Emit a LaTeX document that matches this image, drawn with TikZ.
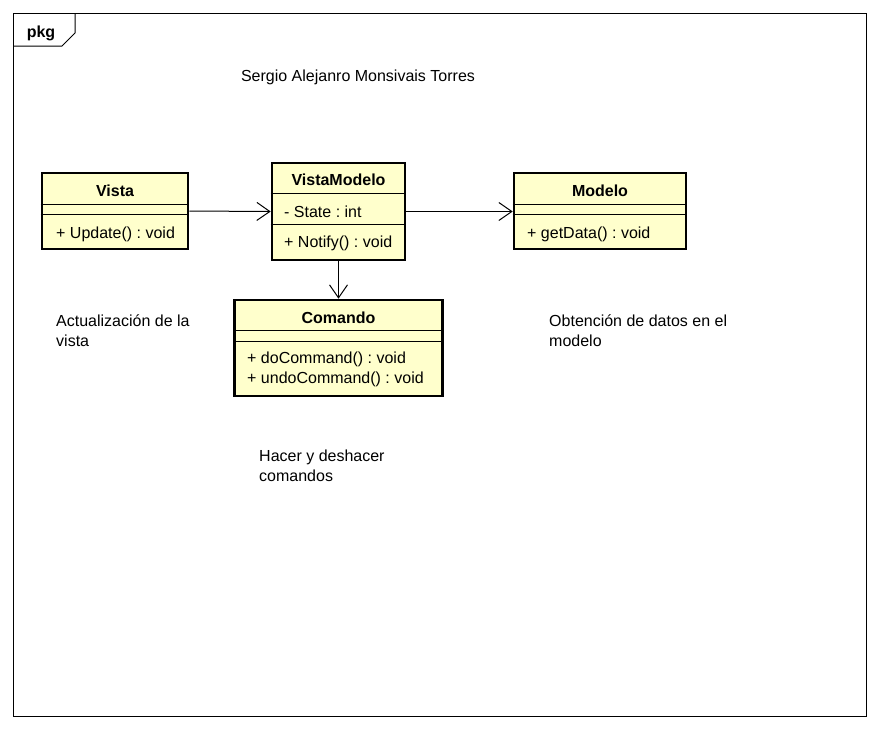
\documentclass[tikz,border=0pt]{standalone}
\usepackage{fontspec}
\setmainfont{Liberation Sans}
\usetikzlibrary{arrows.meta}
\definecolor{classfill}{RGB}{255,255,204}
\frenchspacing

\newcommand{\umlfont}{\fontsize{16}{20}\selectfont}

\tikzset{
  classbox/.style={draw, fill=classfill, line width=2.6pt, inner sep=0pt},
  divider/.style={line width=1pt},
  dep/.style={line width=1pt, -{Straight Barb[length=13pt,width=18pt]}},
  member/.style={anchor=base west, inner sep=0pt, font=\umlfont},
  cname/.style={anchor=base, inner sep=0pt, font=\umlfont\bfseries},
  note/.style={anchor=base west, inner sep=0pt, align=left, font=\umlfont}
}

\begin{document}
\begin{tikzpicture}[x=1pt,y=-1pt]
\useasboundingbox (0,0) rectangle (880,729);

% package frame
\draw[line width=1pt] (13,13) rectangle (866,716);
\draw[line width=1pt] (13,46) -- (62,46) -- (75,33) -- (75,13);
\node[cname] (pkg) at (41,37) {pkg};
\node[anchor=base, inner sep=0pt, font=\umlfont] (author) at (358,81) {Sergio Alejanro Monsivais Torres};

% Vista
\node[classbox, minimum width=146pt, minimum height=76pt] (vista) at (115,211) {};
\draw[divider] (vista.west |- 0,204) -- (vista.east |- 0,204);
\draw[divider] (vista.west |- 0,214) -- (vista.east |- 0,214);
\node[cname] at (115,196) {Vista};
\node[member] at (56,238) {+ Update() : void};

% VistaModelo
\node[classbox, minimum width=133pt, minimum height=97pt] (vm) at (338.5,211.5) {};
\draw[divider] (vm.west |- 0,193) -- (vm.east |- 0,193);
\draw[divider] (vm.west |- 0,224) -- (vm.east |- 0,224);
\node[cname] at (338.5,185) {VistaModelo};
\node[member] at (284,217) {- State : int};
\node[member] at (284,247) {+ Notify() : void};

% Modelo
\node[classbox, minimum width=172pt, minimum height=76pt] (modelo) at (600,211) {};
\draw[divider] (modelo.west |- 0,204) -- (modelo.east |- 0,204);
\draw[divider] (modelo.west |- 0,214) -- (modelo.east |- 0,214);
\node[cname] at (600,196) {Modelo};
\node[member] at (527,238) {+ getData() : void};

% Comando
\node[classbox, minimum width=208pt, minimum height=96pt] (comando) at (338.5,348) {};
\draw[divider] (comando.west |- 0,330) -- (comando.east |- 0,330);
\draw[divider] (comando.west |- 0,341) -- (comando.east |- 0,341);
\node[cname] at (338.5,323) {Comando};
\node[member] at (247,363) {+ doCommand() : void};
\node[member] at (247,383) {+ undoCommand() : void};

% dependencies
\draw[dep] (vista.east) -- (vm.west);
\draw[dep] (vm.east) -- (modelo.west |- vm.east);
\draw[dep] (vm.south) -- (comando.north);

% notes (base = last line)
\node[note] (n1) at (56,346) {Actualización de la\\vista};
\node[note] (n2) at (549,346) {Obtención de datos en el\\modelo};
\node[note] (n3) at (259,481) {Hacer y deshacer\\comandos};
\end{tikzpicture}
\end{document}
